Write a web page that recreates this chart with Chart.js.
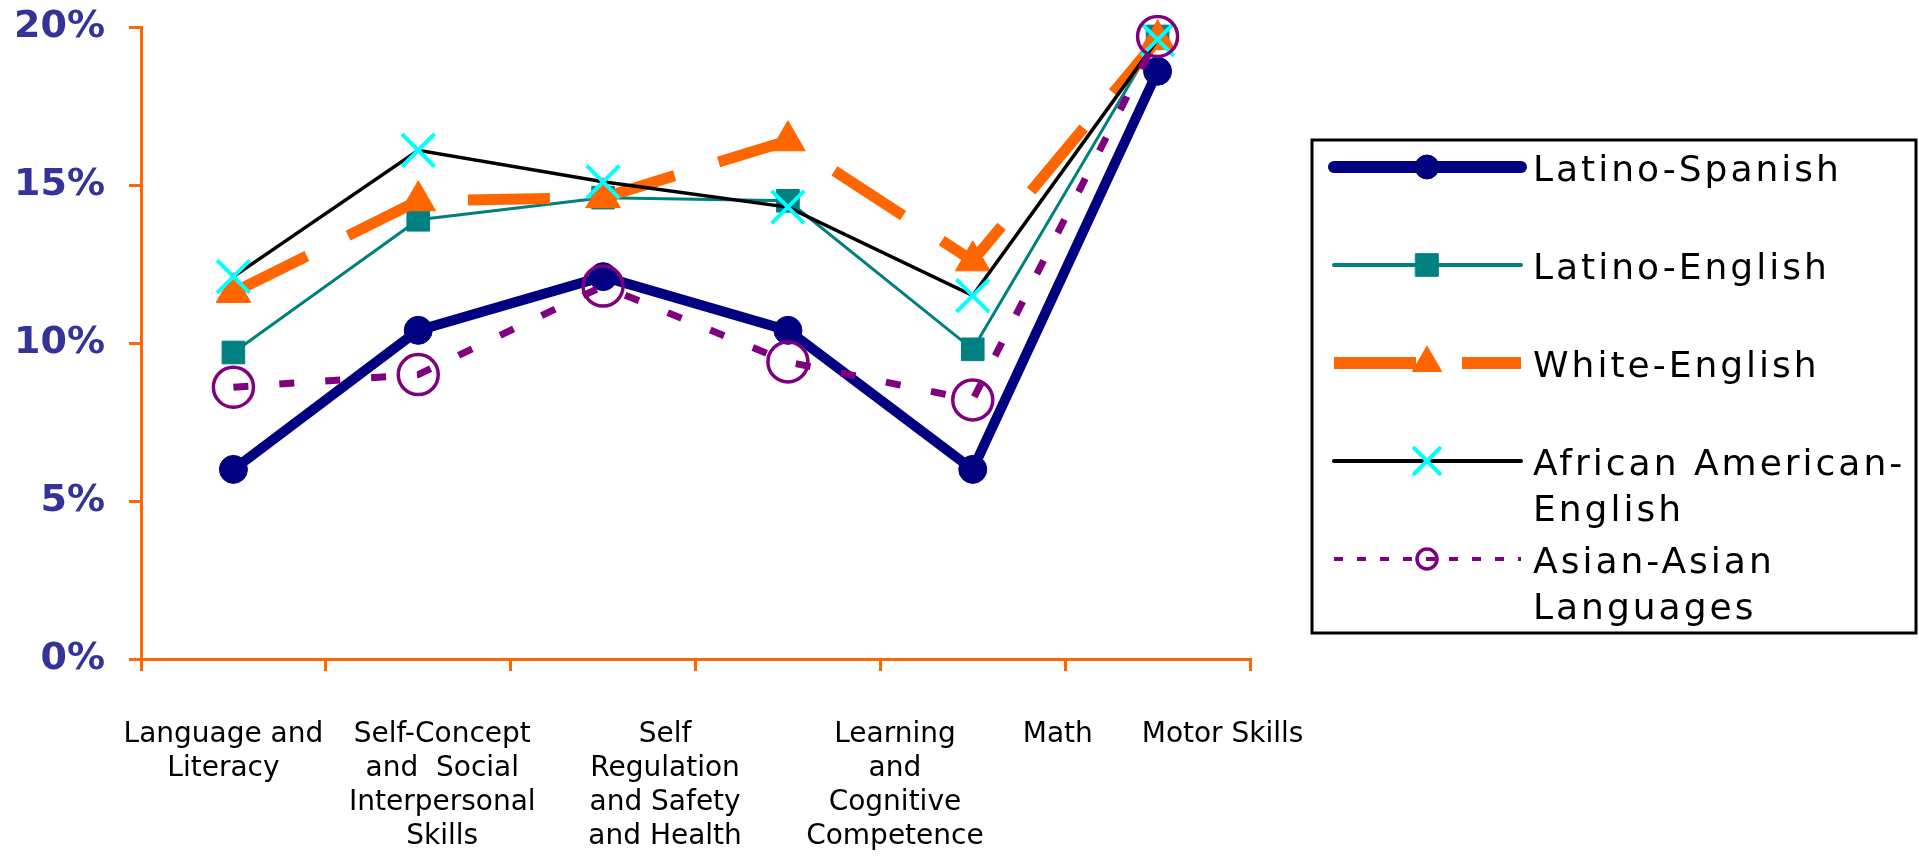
<!DOCTYPE html>
<html>
<head>
<meta charset="utf-8">
<script src="https://cdn.jsdelivr.net/npm/chart.js@4.4.1/dist/chart.umd.min.js"></script>
<style>
  html, body { margin: 0; padding: 0; background: #ffffff; }
  #wrap { width: 1919px; height: 859px; position: relative; }
</style>
</head>
<body>
<div id="wrap"><canvas id="c"></canvas></div>
<script>
// ---- data ----
const categoryLabels = [
  ["Language and", "Literacy"],
  ["Self-Concept", "and  Social", "Interpersonal", "Skills"],
  ["Self", "Regulation", "and Safety", "and Health"],
  ["Learning", "and", "Cognitive", "Competence"],
  ["Math"],
  ["Motor Skills"]
];
const seriesNames = [
  ["Latino-Spanish"],
  ["Latino-English"],
  ["White-English"],
  ["African American-", "English"],
  ["Asian-Asian", "Languages"]
];
const latinoSpanish  = [6.0, 10.4, 12.1, 10.4, 6.0, 18.6];
const latinoEnglish  = [9.7, 13.9, 14.6, 14.5, 9.8, 19.7];
const whiteEnglish   = [11.6, 14.5, 14.6, 16.4, 12.6, 19.6];
const africanEnglish = [12.1, 16.1, 15.1, 14.3, 11.5, 19.6];
const asianAsian     = [8.6, 9.0, 11.8, 9.4, 8.2, 19.7];
const yTicks = [0, 5, 10, 15, 20];

// ---- styles ----
const ORANGE = '#FF6600';
const xLabelShift = [-10, 24, 62, 107, 85, 65];
const legendStyle = [
  { lw: 12, dash: [], cap: 'round', r: 12, style: 'circle' },
  { lw: 4, dash: [], cap: 'round', r: 16, style: 'rect' },
  { lw: 12, dash: [82, 46], cap: 'butt', r: 17, style: 'triangle' },
  { lw: 4, dash: [], cap: 'round', r: 18, style: 'crossRot' },
  { lw: 4, dash: [9, 14], cap: 'butt', r: 10, style: 'circle' }
];

const labelsPlugin = {
  id: 'customLabels',
  afterDraw(chart) {
    const ctx = chart.ctx;
    const xs = chart.scales.x;
    ctx.save();
    ctx.fillStyle = '#000000';
    ctx.font = '28px "DejaVu Sans"';
    ctx.textAlign = 'center';
    ctx.textBaseline = 'middle';
    categoryLabels.forEach((lines, i) => {
      const cx = xs.getPixelForValue(i) + xLabelShift[i];
      lines.forEach((t, k) => ctx.fillText(t, cx, xs.top + 76 + k * 34));
    });
    ctx.restore();

    // legend
    const boxL = 1312, boxT = 140, boxR = 1916, boxB = 633;
    ctx.save();
    ctx.strokeStyle = '#000000';
    ctx.lineWidth = 3;
    ctx.strokeRect(boxL, boxT, boxR - boxL, boxB - boxT);
    const lineX0 = 1334, lineX1 = 1521, markX = 1427, textX = 1533;
    const ds = chart.data.datasets;
    ds.forEach((d, i) => {
      const st = legendStyle[i];
      const y = boxT + 27 + i * 98;
      ctx.save();
      ctx.strokeStyle = d.borderColor;
      ctx.lineWidth = st.lw;
      ctx.lineCap = st.cap;
      ctx.setLineDash(st.dash);
      ctx.beginPath();
      ctx.moveTo(lineX0, y);
      ctx.lineTo(lineX1, y);
      ctx.stroke();
      ctx.setLineDash([]);
      ctx.fillStyle = d.pointBackgroundColor;
      ctx.strokeStyle = d.pointBorderColor;
      ctx.lineWidth = d.pointBorderWidth;
      Chart.helpers.drawPoint(ctx, { pointStyle: st.style, radius: st.r, rotation: 0, borderWidth: d.pointBorderWidth }, markX, y);
      ctx.restore();
      ctx.save();
      ctx.fillStyle = '#000000';
      ctx.font = '36px "DejaVu Sans"';
      ctx.letterSpacing = '3px';
      ctx.textAlign = 'left';
      ctx.textBaseline = 'alphabetic';
      seriesNames[i].forEach((t, k) => ctx.fillText(t, textX, y + 14 + k * 46));
      ctx.restore();
    });
    ctx.restore();
  }
};

const datasets = [
  { label: seriesNames[0].join(' '), data: latinoSpanish, borderColor: '#000080', borderWidth: 10,
    borderJoinStyle: 'round', borderCapStyle: 'round',
    pointStyle: 'circle', pointRadius: 14, pointBackgroundColor: '#000080', pointBorderColor: '#000080', pointBorderWidth: 1, order: 5 },
  { label: seriesNames[1].join(' '), data: latinoEnglish, borderColor: '#008080', borderWidth: 3,
    pointStyle: 'rect', pointRadius: 16, pointBackgroundColor: '#008080', pointBorderColor: '#008080', pointBorderWidth: 1, order: 4 },
  { label: seriesNames[2].join(' '), data: whiteEnglish, borderColor: ORANGE, borderWidth: 11,
    borderDash: [82, 46], borderCapStyle: 'butt',
    pointStyle: 'triangle', pointRadius: 20, pointBackgroundColor: ORANGE, pointBorderColor: ORANGE, pointBorderWidth: 1, order: 3 },
  { label: seriesNames[3].join(' '), data: africanEnglish, borderColor: '#000000', borderWidth: 3.5,
    pointStyle: 'crossRot', pointRadius: 23, pointBackgroundColor: '#00FFFF', pointBorderColor: '#00FFFF', pointBorderWidth: 4, order: 2 },
  { label: seriesNames[4].join(' '), data: asianAsian, borderColor: '#800080', borderWidth: 7,
    borderDash: [15, 31], borderCapStyle: 'butt',
    pointStyle: 'circle', pointRadius: 20, pointBackgroundColor: 'rgba(255,255,255,0)', pointBorderColor: '#800080', pointBorderWidth: 3.5, order: 1 }
];
datasets.forEach(d => { d.tension = 0; d.fill = false; d.clip = false; d.pointHoverRadius = d.pointRadius; });

new Chart(document.getElementById('c'), {
  type: 'line',
  data: { labels: categoryLabels.map(l => l.join(' ')), datasets },
  options: {
    responsive: true,
    maintainAspectRatio: false,
    animation: false,
    devicePixelRatio: 1,
    layout: { padding: { top: 23, right: 669, bottom: 0, left: 0 } },
    plugins: { legend: { display: false }, tooltip: { enabled: false } },
    scales: {
      x: {
        type: 'category',
        offset: true,
        grid: { offset: true, drawOnChartArea: false, drawTicks: true, tickLength: 12, color: ORANGE, lineWidth: 3 },
        border: { display: true, color: ORANGE, width: 3 },
        ticks: { display: false },
        afterFit(s) { s.height = 200; s.paddingLeft = 0; s.paddingRight = 0; }
      },
      y: {
        min: 0, max: 20,
        afterBuildTicks(s) { s.ticks = yTicks.map(v => ({ value: v })); },
        grid: { drawOnChartArea: false, drawTicks: true, tickLength: 12, color: ORANGE, lineWidth: 3 },
        border: { display: true, color: ORANGE, width: 3 },
        ticks: {
          color: '#333399',
          font: { family: 'DejaVu Sans', size: 38, weight: 'bold' },
          padding: 24,
          callback: v => v + '%'
        },
        afterFit(s) { s.width = 141; s.paddingTop = 0; s.paddingBottom = 0; }
      }
    }
  },
  plugins: [labelsPlugin]
});
</script>
</body>
</html>
